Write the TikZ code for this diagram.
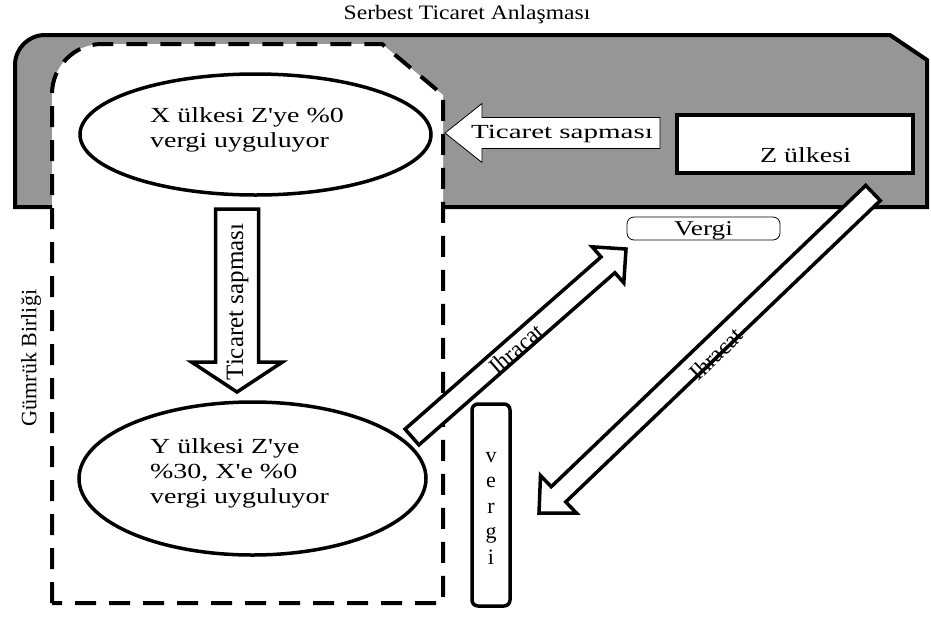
\documentclass[tikz,border=0pt]{standalone}
\usepackage{fontspec}
\setmainfont{Liberation Serif}
\newfontfamily\titlefont{Liberation Serif}[FakeStretch=1.15]
\newfontfamily\widefont{Liberation Serif}[FakeStretch=1.3]
\newfontfamily\widerfont{Liberation Serif}[FakeStretch=1.45]
\usepackage{xcolor}
\usepackage{tikz}
\usetikzlibrary{calc, positioning, shapes.geometric}

\definecolor{ftagray}{RGB}{150,150,150}

% block arrow: [style]{tail}{tip}{half shaft}{head length}{half head}
\newcommand{\fatarrow}[6][]{%
	\coordinate (fa-h) at ($(#3)!#5!(#2)$);
	\draw[#1] ($(#2)!#4!90:(#3)$) -- ($(fa-h)!#4!-90:(#2)$) -- ($(fa-h)!#6!-90:(#2)$)
		-- (#3) -- ($(fa-h)!#6!90:(#2)$) -- ($(fa-h)!#4!90:(#2)$) -- ($(#2)!#4!-90:(#3)$) -- cycle;}

\begin{document}
\begin{tikzpicture}[x=1pt, y=-1pt]
		\tikzstyle{country} = [draw, ellipse, line width=3.5pt, fill=white, inner sep=0pt]
		\tikzstyle{txt} = [inner sep=0pt, align=left, font=\widefont\fontsize{21.5}{25}\selectfont]
		\tikzstyle{tax} = [draw, fill=white, inner sep=0pt, font=\widefont\fontsize{21}{25}\selectfont]
		\tikzstyle{fat} = [line width=3.5pt, fill=white]
		
		\useasboundingbox (0,0) rectangle (931,619);
		
		% Serbest Ticaret Anlasmasi
		\fill[ftagray] (15,207) [rounded corners=30pt] -- (15,35) [sharp corners] -- (890,35) -- (927,60) -- (927,207) -- cycle;
		\fill[white] (52,603) [rounded corners=50pt] -- (52,44) [sharp corners] -- (382,44) -- (443,95) -- (443,603) -- cycle;
		\draw[line width=4pt] (52,207) -- (15,207) [rounded corners=30pt] -- (15,35) [sharp corners] -- (890,35) -- (927,60) -- (927,207) -- (443,207);
		\node[font=\titlefont\fontsize{20.5}{24}\selectfont] (sta) at (467,15) {Serbest Ticaret Anlaşması};
		
		% Gumruk Birligi
		\draw[line width=4pt, dash pattern=on 21pt off 13pt] (52,603) [rounded corners=50pt] -- (52,44) [sharp corners] -- (382,44) -- (443,95) -- (443,603) -- cycle;
		\node[rotate=90, font=\fontsize{22}{24}\selectfont] (gb) at (31,358) {Gümrük Birliği};
		
		\node[country, minimum width=351pt, minimum height=121pt] 	at (255.5,134.5) 	(x) 	{};
		\node[country, minimum width=347pt, minimum height=153pt] 	at (252.5,478.5) 	(y) 	{};
		\node[txt, anchor=north west] 	at (150,107) 	(xt) 	{X ülkesi Z'ye \%0\\vergi uyguluyor};
		\node[txt, anchor=north west] 	at (150,438) 	(yt) 	{Y ülkesi Z'ye\\\%30, X'e \%0\\vergi uyguluyor};
		
		\node[draw, line width=3.5pt, fill=white, minimum width=236pt, minimum height=58pt] 	at (795,144) 	(z) 	{};
		\node[txt, anchor=base west] 	at (760,162) 	(zt) 	{Z ülkesi};
		
		\node[tax, line width=0.8pt, rounded corners=7pt, minimum width=153pt, minimum height=23pt, text depth=0pt] 	at (703.5,228.5) 	(v1) 	{Vergi};
		\node[draw, line width=3.5pt, fill=white, rounded corners=6pt, minimum width=38pt, minimum height=202pt] 	at (491,505) 	(v2) 	{};
		\node[anchor=north, align=center, inner sep=0pt, font=\fontsize{22}{25.5}\selectfont] 	at (491,452) 	(v2t) 	{v\\e\\r\\g\\i};
		
		% ticaret sapmasi
		\coordinate (ts1a) at (237,209);
		\coordinate (ts1b) at (237,392);
		\fatarrow[fat]{ts1a}{ts1b}{21.5pt}{30pt}{45.5pt}
		\node[rotate=90, font=\fontsize{25}{27}\selectfont] 	at (237.5,302) 	(ts1) 	{Ticaret sapması};
		
		\coordinate (ts2a) at (660,133);
		\coordinate (ts2b) at (445,133);
		\fatarrow[line width=0.8pt, fill=white]{ts2a}{ts2b}{15.5pt}{37pt}{29.5pt}
		\node[font=\widerfont\fontsize{20}{24}\selectfont] 	at (562,134) 	(ts2) 	{Ticaret sapması};
		
		% ihracat
		\coordinate (ih1a) at (412,437);
		\coordinate (ih1b) at (626,249);
		\fatarrow[fat]{ih1a}{ih1b}{10.5pt}{24pt}{24pt}
		\node[rotate=41, font=\fontsize{23}{25}\selectfont] 	at (516,349) 	(ih1) 	{Ihracat};
		
		\coordinate (ih2a) at (873,193);
		\coordinate (ih2b) at (539,513);
		\fatarrow[fat]{ih2a}{ih2b}{10.5pt}{27pt}{26pt}
		\node[rotate=44, font=\fontsize{23}{25}\selectfont] 	at (716,354) 	(ih2) 	{Ihracat};
	\end{tikzpicture}
\end{document}
